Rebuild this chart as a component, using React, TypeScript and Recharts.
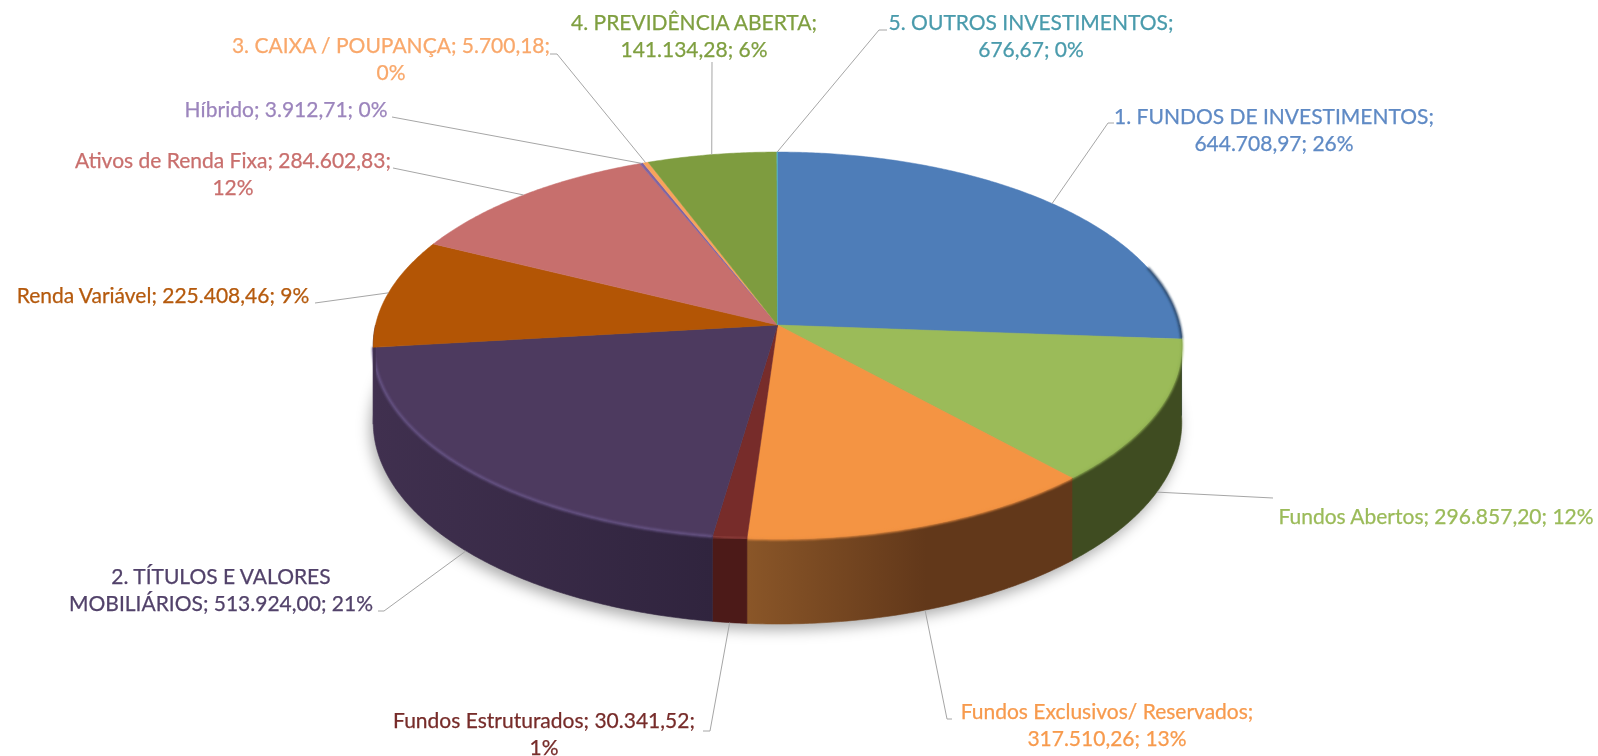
import { Pie, PieChart } from 'recharts'

const WIDTH = 1598
const HEIGHT = 756

const CATEGORIES = [
  '1. FUNDOS DE INVESTIMENTOS',
  'Fundos Abertos',
  'Fundos Exclusivos/ Reservados',
  'Fundos Estruturados',
  '2. TÍTULOS E VALORES MOBILIÁRIOS',
  'Renda Variável',
  'Ativos de Renda Fixa',
  'Híbrido',
  '3. CAIXA / POUPANÇA',
  '4. PREVIDÊNCIA ABERTA',
  '5. OUTROS INVESTIMENTOS',
]

const VALUES = [
  644708.97, 296857.2, 317510.26, 30341.52, 513924.0, 225408.46, 284602.83,
  3912.71, 5700.18, 141134.28, 676.67,
]

const TOP_COLORS = [
  '#4e7db8', '#9bbb59', '#f49443', '#772c2a', '#4d3a5f', '#b35505',
  '#c76f6d', '#8064a2', '#f8a35c', '#7e9c3f', '#4bacc6',
]

const WALL_COLORS = [
  ['#2c4668', '#2c4668'],
  ['#3f4c21', '#3f4c21'],
  ['#8a5628', '#62381a'],
  ['#4c1a18', '#4c1a18'],
  ['#40304f', '#30243e'],
  ['#40304f', '#40304f'],
  ['#7a4443', '#7a4443'],
  ['#4e3d63', '#4e3d63'],
  ['#96622f', '#96622f'],
  ['#4d5f27', '#4d5f27'],
  ['#2e6a79', '#2e6a79'],
]

const RIM_COLORS = [
  '#2c4668', '#93b353', '#f09040', '#8a3a38', '#675487', '#b35505',
  '#c76f6d', '#8064a2', '#f8a35c', '#7e9c3f', '#4bacc6',
]

const TEXT_COLORS = [
  '#5f8ac5', '#9bbb59', '#f79a4d', '#772c2a', '#52426a', '#b55a0d',
  '#c96f6d', '#9c85bd', '#f9a86b', '#7f9f40', '#4a9bac',
]

// label placement: centre x, first baseline, words on first line, leader bend points
const LABEL_X = [1274, 1436, 1107, 544, 221, 163, 233, 286, 391, 694, 1031]
const LABEL_Y = [124, 524, 719, 728, 584, 303, 168, 117, 53, 30, 30]
const LABEL_BREAK = [4, 0, 3, 3, 4, 0, 5, 0, 5, 3, 3]
const LEADERS: number[][][] = [
  [[1108, 123], [1114, 123]],
  [[1273, 498]],
  [[947, 719], [952, 719]],
  [[710, 731], [703, 731]],
  [[384, 611], [378, 611]],
  [[315, 303]],
  [[393, 168]],
  [[392, 117]],
  [[557, 54], [550, 54]],
  [[712, 62]],
  [[879, 30], [887, 30]],
]

const total = VALUES.reduce((sum, v) => sum + v, 0)
const chartData = CATEGORIES.map((name, i) => ({ name, value: VALUES[i] }))

const CX = 777.5
const CY = 325
const RX = 402
const RY = 191.3
const PERSPECTIVE = 0.106
const DEPTH = 76

function formatBR(value: number): string {
  return value.toLocaleString('pt-BR', {
    minimumFractionDigits: 2,
    maximumFractionDigits: 2,
  })
}

// clock: degrees clockwise from 12 o'clock, recharts gives math degrees
function toClock(angle: number): number {
  return 90 - angle
}

function project(clock: number, drop = false): [number, number] {
  const rad = (clock * Math.PI) / 180
  const u = Math.sin(rad)
  const v = -Math.cos(rad)
  const w = 1 - PERSPECTIVE * v
  const x = CX + (RX * u) / w
  const y = CY + (RY * v) / w + (drop ? DEPTH / w : 0)
  return [x, y]
}

function arcPoints(from: number, to: number, drop = false): [number, number][] {
  const pts: [number, number][] = []
  const steps = Math.max(2, Math.ceil(Math.abs(to - from) * 2))
  for (let i = 0; i <= steps; i++) {
    pts.push(project(from + ((to - from) * i) / steps, drop))
  }
  return pts
}

function toPath(pts: [number, number][]): string {
  return pts
    .map((p, i) => `${i === 0 ? 'M' : 'L'}${p[0].toFixed(2)},${p[1].toFixed(2)}`)
    .join(' ')
}

function Slice(props: any) {
  const index: number = props.index ?? 0
  const from = toClock(props.startAngle)
  const to = toClock(props.endAngle)
  const fill = TOP_COLORS[index]

  const topPath = `M${CX},${CY} ${toPath(arcPoints(from, to)).replace('M', 'L')} Z`

  const wallFrom = Math.max(from, 90)
  const wallTo = Math.min(to, 270)
  const hasWall = wallTo > wallFrom

  const rimFrom = Math.max(from, 72)
  const rimTo = Math.min(to, 264)
  const hasRim = rimTo > rimFrom

  let wall = null
  if (hasWall) {
    const upper = arcPoints(wallFrom, wallTo)
    const lower = arcPoints(wallFrom, wallTo, true).reverse()
    const xs = [...upper, ...lower].map((p) => p[0])
    const gradientId = `wall-${index}`
    wall = (
      <>
        <defs>
          <linearGradient
            id={gradientId}
            gradientUnits="userSpaceOnUse"
            x1={Math.min(...xs)}
            x2={Math.max(...xs)}
            y1={0}
            y2={0}
          >
            <stop offset="0%" stopColor={WALL_COLORS[index][0]} />
            <stop offset={index === 2 ? '55%' : '100%'} stopColor={WALL_COLORS[index][1]} />
          </linearGradient>
        </defs>
        <path
          d={`${toPath(upper)} ${toPath(lower).replace('M', 'L')} Z`}
          fill={`url(#${gradientId})`}
          stroke={`url(#${gradientId})`}
          strokeWidth={0.6}
        />
      </>
    )
  }

  return (
    <g>
      {wall}
      <path d={topPath} fill={fill} stroke={fill} strokeWidth={0.5} />
      {hasRim ? (
        <path
          d={toPath(arcPoints(rimFrom, rimTo))}
          fill="none"
          stroke={RIM_COLORS[index]}
          strokeWidth={2.4}
          filter="url(#rimBlur)"
        />
      ) : null}
    </g>
  )
}

function SliceLabel(props: any) {
  const index: number = props.index
  const clock = toClock(props.midAngle)
  const onWall = clock > 100 && clock < 262
  const start = project(clock, onWall)
  const points = [start, ...LEADERS[index]]
    .map((p) => `${p[0]},${p[1]}`)
    .join(' ')

  const pct = Math.round((VALUES[index] / total) * 100)
  const words = `${CATEGORIES[index]}; ${formatBR(VALUES[index])}; ${pct}%`.split(' ')
  const cut = LABEL_BREAK[index]
  const lines = cut
    ? [words.slice(0, cut).join(' '), words.slice(cut).join(' ')]
    : [words.join(' ')]

  return (
    <g>
      <polyline points={points} fill="none" stroke="#a6a6a6" strokeWidth={1} />
      {lines.map((line, i) => (
        <text
          key={i}
          x={LABEL_X[index]}
          y={LABEL_Y[index] + i * 26.5}
          textAnchor="middle"
          fill={TEXT_COLORS[index]}
          stroke={TEXT_COLORS[index]}
          strokeWidth={0.25}
          fontFamily="Lato"
          fontSize={21}
        >
          {line}
        </text>
      ))}
    </g>
  )
}

function Shadow() {
  const outline = [...arcPoints(60, 300, true)]
  return (
    <path
      d={`${toPath(outline)} Z`}
      fill="#000"
      fillOpacity={0.32}
      filter="url(#dropShadow)"
      transform="translate(-3 6)"
    />
  )
}

export default function App() {
  return (
    <div
      style={{
        position: 'absolute',
        left: 0,
        top: 0,
        width: WIDTH,
        height: HEIGHT,
        background: '#fff',
        filter: 'blur(0.5px)',
      }}
    >
      <PieChart width={WIDTH} height={HEIGHT} margin={{ top: 0, right: 0, bottom: 0, left: 0 }}>
        <defs>
          <filter id="rimBlur" x="-20%" y="-20%" width="140%" height="140%">
            <feGaussianBlur stdDeviation="1" />
          </filter>
          <filter id="dropShadow" x="-10%" y="-10%" width="120%" height="120%">
            <feGaussianBlur stdDeviation="7" />
          </filter>
        </defs>
        <Shadow />
        <Pie
          data={chartData}
          dataKey="value"
          nameKey="name"
          cx={CX}
          cy={CY}
          innerRadius={0}
          outerRadius={RX}
          startAngle={90}
          endAngle={-270}
          paddingAngle={0}
          stroke="none"
          isAnimationActive={false}
          shape={Slice}
          label={SliceLabel}
          labelLine={false}
        />
      </PieChart>
    </div>
  )
}
